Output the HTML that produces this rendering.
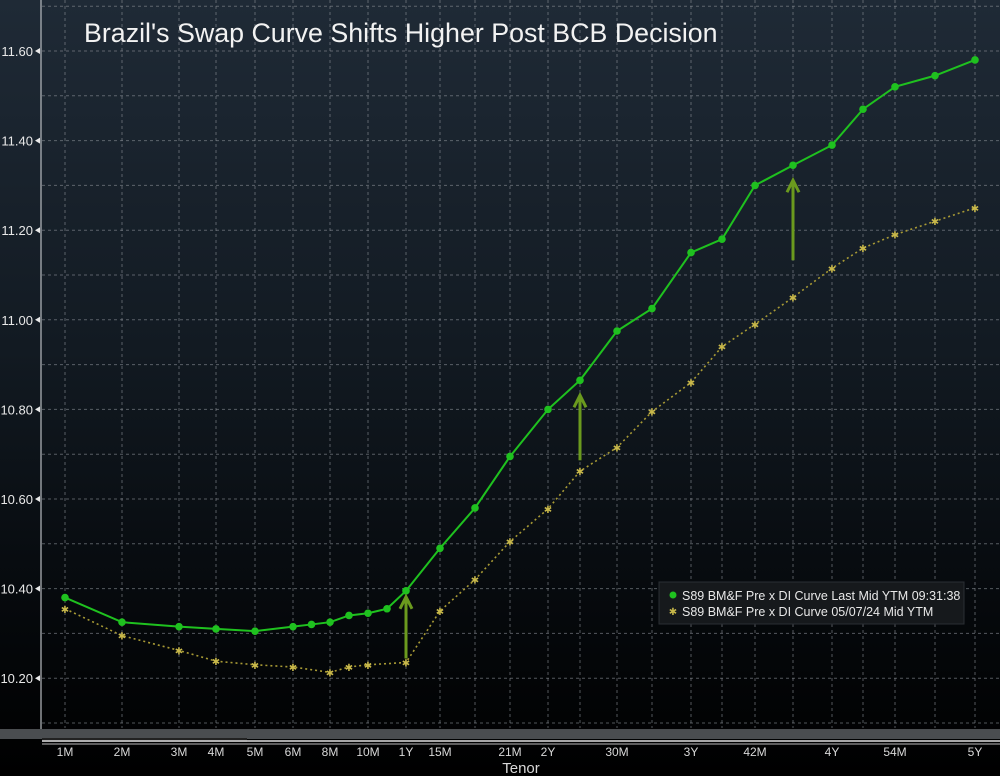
<!DOCTYPE html>
<html><head><meta charset="utf-8">
<style>
html,body{margin:0;padding:0;background:#000;}
#wrap{position:relative;width:1000px;height:776px;overflow:hidden;background:linear-gradient(#1f2a36 0%,#121a22 45%,#05080b 80%,#000 100%);font-family:"Liberation Sans",sans-serif;}
svg text{font-family:"Liberation Sans",sans-serif;}
</style></head>
<body>
<div id="wrap">
<svg id="chart" width="1000" height="776"></svg>
</div>
<script>
const tenorMonths=[1,2,3,4,5,6,7,8,9,10,11,12,15,18,21,24,27,30,33,36,39,42,45,48,51,54,57,60];
const latestYield=[10.38,10.325,10.315,10.31,10.305,10.315,10.32,10.325,10.34,10.345,10.355,10.395,10.49,10.58,10.695,10.80,10.865,10.975,11.025,11.15,11.18,11.30,11.345,11.39,11.47,11.52,11.545,11.58];
const priorMonths=[1,2,3,4,5,6,8,9,10,12,15,18,21,24,27,30,33,36,39,42,45,48,51,54,57,60];
const priorYield=[10.355,10.295,10.262,10.238,10.23,10.225,10.213,10.225,10.23,10.235,10.35,10.42,10.505,10.578,10.662,10.715,10.795,10.86,10.94,10.99,11.05,11.115,11.16,11.19,11.22,11.25];
const tickMonths=[1,2,3,4,5,6,8,10,12,15,21,24,30,36,42,48,54,60];
const tickLabels=["1M","2M","3M","4M","5M","6M","8M","10M","1Y","15M","21M","2Y","30M","3Y","42M","4Y","54M","5Y"];
const yTicks=[10.2,10.4,10.6,10.8,11.0,11.2,11.4,11.6];
const arrowMonths=[12,27,45];

const NS="http://www.w3.org/2000/svg";
const svg=document.getElementById('chart');
const kM=[1,2,3,4,5,6,8,10,12,15,18,21,24,27,30,33,36,39,42,45,48,51,54,57,60];
const kP=[65,122,179,216,255,293,330,368,406,440,475,510,548,580,617,652,691,722,755,793,832,863,895,935,975];
function x(m){for(let i=0;i<kM.length-1;i++){if(m<=kM[i+1]){return kP[i]+(m-kM[i])/(kM[i+1]-kM[i])*(kP[i+1]-kP[i]);}}return kP[kP.length-1];}
function y(v){return 51+(11.6-v)/0.2*89.6;}
function el(t,a,p){const e=document.createElementNS(NS,t);for(const k in a)e.setAttribute(k,a[k]);(p||svg).appendChild(e);return e;}

const grid=el('g',{});


for(let v=10.1;v<=11.75;v+=0.1){const yy=y(v);if(yy<0)continue;
 el('line',{x1:42,x2:1000,y1:yy,y2:yy,stroke:'#8a8f96','stroke-width':1,'stroke-dasharray':'3,3',opacity:0.6},grid);}
for(const m of kM){el('line',{x1:x(m),x2:x(m),y1:0,y2:728,stroke:'#8a8f96','stroke-width':1,'stroke-dasharray':'3,3',opacity:0.6},grid);}
const ya=el('line',{x1:41,x2:41,y1:0,y2:730,stroke:'#b8bcc0','stroke-width':1.2});


for(const v of yTicks){
 const t=el('text',{x:33,y:y(v)+5,fill:'#e8e8e8','font-size':13,'text-anchor':'end'});t.textContent=v.toFixed(2);
 
 
 el('polygon',{points:`${35},${y(v)} ${40},${y(v)-3} ${40},${y(v)+3}`,fill:'#e8e8e8'});
}
const title=el('text',{x:84,y:42,fill:'#f2f2f2','font-size':26.8});title.textContent="Brazil's Swap Curve Shifts Higher Post BCB Decision";



const pr=el('g',{});


el('polyline',{points:priorMonths.map((m,i)=>x(m)+','+y(priorYield[i])).join(' '),fill:'none',stroke:'#a89a35','stroke-width':1.6,'stroke-dasharray':'2,3'},pr);
priorMonths.forEach((m,i)=>{const cx=x(m),cy=y(priorYield[i]);
 const s=el('text',{x:cx,y:cy+4,fill:'#c8b84a','font-size':10,'text-anchor':'middle'},pr);s.textContent='✱';
 
 });
const lt=el('g',{});


el('polyline',{points:tenorMonths.map((m,i)=>x(m)+','+y(latestYield[i])).join(' '),fill:'none',stroke:'#1fc11f','stroke-width':2},lt);
tenorMonths.forEach((m,i)=>{const c=el('circle',{cx:x(m),cy:y(latestYield[i]),r:3.8,fill:'#1fc11f'},lt);
 
 });

arrowMonths.forEach(m=>{
 const li=priorMonths.indexOf(m),lj=tenorMonths.indexOf(m);
 let y0,y1,xx=x(m);
 if(m===12){y0=y(priorYield[li])-4;y1=y(latestYield[lj])+6;}
 else{y0=y(latestYield[lj])+ (m===27?80:95);y1=y(latestYield[lj])+15;}
 const g=el('g',{});
 
 
 el('line',{x1:xx,x2:xx,y1:y0,y2:y1+2,stroke:'#6b9a1e','stroke-width':3},g);
 el('polyline',{points:`${xx-6},${y1+12} ${xx},${y1} ${xx+6},${y1+12}`,fill:'none',stroke:'#6b9a1e','stroke-width':3},g);
});

const lg=el('g',{});


el('rect',{x:659,y:582,width:305,height:42,fill:'#16191c',stroke:'#2a2e33'},lg);
el('circle',{cx:673,cy:595,r:3.5,fill:'#1fc11f'},lg);
const l1=el('text',{x:682,y:600,fill:'#e8e8e8','font-size':12.5},lg);l1.textContent='S89 BM&F Pre x DI Curve Last Mid YTM 09:31:38';
const st=el('text',{x:673,y:615,fill:'#c8b84a','font-size':10,'text-anchor':'middle'},lg);st.textContent='✱';
const l2=el('text',{x:682,y:616,fill:'#e8e8e8','font-size':12.5},lg);l2.textContent='S89 BM&F Pre x DI Curve 05/07/24 Mid YTM';

el('rect',{x:0,y:729,width:1000,height:10,fill:'#4a4d50'});
el('rect',{x:42,y:738,width:205,height:4,fill:'#222'});
el('line',{x1:42,x2:1000,y1:741,y2:741,stroke:'#e0e0e0','stroke-width':1.5});
el('line',{x1:42,x2:1000,y1:744,y2:744,stroke:'#bbb','stroke-width':1});
const xa=el('g',{});


tickMonths.forEach((m,i)=>{
 const t=el('text',{x:x(m),y:756,fill:'#d8d8d8','font-size':12,'text-anchor':'middle'},xa);t.textContent=tickLabels[i];
 
 });
const xt=el('text',{x:521,y:773,fill:'#d8d8d8','font-size':15,'text-anchor':'middle'});xt.textContent='Tenor';


</script>
</body></html>
